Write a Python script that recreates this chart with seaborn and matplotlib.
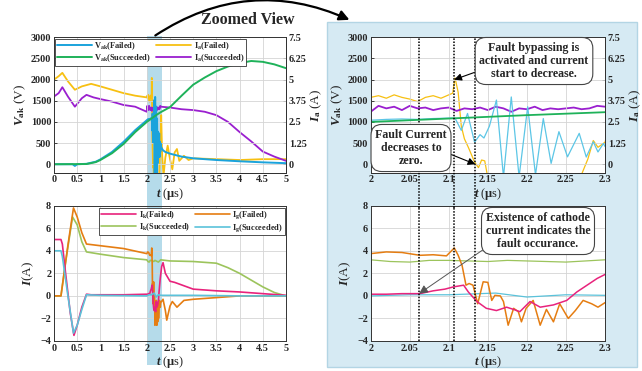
import numpy as np
import pandas as pd
import matplotlib
matplotlib.use("Agg")
import matplotlib.pyplot as plt
import seaborn as sns
from matplotlib.patches import Rectangle, FancyArrowPatch
from matplotlib.ticker import FormatStrFormatter

# ---------------- data (t in microseconds) ----------------
t_vak_f = [0, 0.4, 0.45, 0.5, 0.7, 0.9, 1.0, 1.25, 1.5, 1.75, 2.0, 2.02, 2.04, 2.06, 2.08, 2.1,
           2.108, 2.116, 2.124, 2.133, 2.14, 2.145, 2.152, 2.161, 2.17, 2.18, 2.19, 2.201, 2.211,
           2.221, 2.231, 2.241, 2.252, 2.267, 2.276, 2.285, 2.291, 2.298, 2.3, 2.35, 2.4, 2.5,
           2.75, 3.0, 3.5, 4.0, 4.5, 5.0]
vak_failed = [0, 0, -40, 0, 10, 60, 115, 290, 530, 805, 1040, 1060, 1070, 1060, 1080, 1090,
              1090, 800, 1200, 520, 700, 620, 900, 1517, -300, 1590, -300, 1360, -250,
              1080, 20, 770, 175, 730, 170, 530, 290, 490, 420, 330, 290, 250,
              180, 140, 100, 70, 45, 25]

t_vak_s = [0, 0.7, 0.9, 1.0, 1.25, 1.5, 1.75, 2.0, 2.1, 2.2, 2.3, 2.5, 2.75, 3.0, 3.25, 3.5,
           3.75, 4.0, 4.25, 4.5, 4.75, 5.0]
vak_succeeded = [0, 5, 50, 100, 260, 480, 760, 1000, 1080, 1160, 1230, 1350, 1620, 1880, 2050,
                 2200, 2310, 2390, 2440, 2420, 2360, 2270]

t_ia_f = [0, 0.1, 0.18, 0.3, 0.45, 0.6, 0.8, 1.0, 1.25, 1.5, 1.75, 2.0,
          2.01, 2.02, 2.03, 2.04, 2.05, 2.06, 2.07, 2.08, 2.09, 2.1,
          2.105, 2.108, 2.112, 2.116, 2.12, 2.125, 2.133, 2.138, 2.142, 2.146, 2.15, 2.16,
          2.2, 2.25, 2.27, 2.278, 2.285, 2.291, 2.3, 2.31, 2.33, 2.36, 2.4, 2.45, 2.5, 2.55,
          2.6, 2.65, 2.7, 2.8, 2.9, 3.0, 3.5, 4.0, 4.5, 5.0]
ia_failed = [5.0, 5.2, 5.4, 4.9, 4.4, 4.6, 4.75, 4.6, 4.4, 4.2, 4.05, 3.95,
             4.05, 3.9, 4.1, 3.95, 3.85, 3.7, 3.95, 4.05, 3.9, 4.1,
             4.2, 5.1, 4.25, 2.25, 1.5, 1.0, 0.13, -0.2, 0.25, 0.2, -0.8, -1.2,
             -1.5, -1.2, -0.6, 0.3, 1.4, 1.0, 1.3, 2.9, 0.6, -0.7, 0.4, 1.1, 0.3, -0.3,
             0.7, 0.9, 0.2, 0.5, 0.25, 0.35, 0.3, 0.25, 0.3, 0.3]

t_ia_s = [0, 0.1, 0.18, 0.3, 0.45, 0.6, 0.7, 0.85, 1.0, 1.25, 1.5, 1.75,
          2.0, 2.01, 2.02, 2.03, 2.04, 2.05, 2.06, 2.07, 2.08, 2.09, 2.1, 2.11, 2.12, 2.13,
          2.14, 2.15, 2.16, 2.17, 2.18, 2.19, 2.2, 2.21, 2.22, 2.23, 2.24, 2.25, 2.26, 2.27,
          2.28, 2.29, 2.3, 2.5, 2.75, 3.0, 3.25, 3.5, 3.75, 4.0, 4.25, 4.5, 4.75, 5.0]
ia_succeeded = [4.0, 4.2, 4.55, 4.0, 3.4, 3.9, 4.1, 3.95, 3.85, 3.7, 3.5, 3.4,
                3.1, 3.45, 3.3, 3.4, 3.2, 3.45, 3.3, 3.35, 3.2, 3.3, 3.35, 3.15, 3.3, 3.25,
                3.35, 3.2, 3.4, 3.3, 3.1, 3.3, 3.25, 3.4, 3.2, 3.3, 3.25, 3.3, 3.35, 3.25,
                3.3, 3.45, 3.4, 3.35, 3.25, 3.2, 3.1, 2.9, 2.5, 1.9, 1.35, 0.75, 0.45, 0.2]

t_ik_f = [0, 0.15, 0.18, 0.25, 0.35, 0.43, 0.5, 0.6, 0.7, 0.8, 1.0, 1.5, 2.0,
          2.02, 2.04, 2.063, 2.08, 2.095, 2.106, 2.119, 2.125, 2.136, 2.148, 2.161, 2.174,
          2.183, 2.191, 2.204, 2.217, 2.234, 2.251, 2.264, 2.277, 2.29, 2.3,
          2.32, 2.35, 2.4, 2.5, 2.6, 2.8, 3.0, 3.5, 4.0, 4.5, 5.0]
ik_failed = [5.0, 5.0, 4.6, 2.0, -1.5, -3.5, -2.6, -1.0, 0.15, 0.1, 0.1, 0.1, 0.15,
             0.15, 0.2, 0.2, 0.45, 0.6, 0.8, 0.95, 0.35, -0.5, -1.1, -1.3, -1.0,
             -1.2, -1.4, -0.5, -1.0, -0.8, -0.4, 0.35, 0.95, 1.55, 1.9,
             2.6, 2.95, 2.0, 1.3, 1.2, 0.9, 0.6, 0.45, 0.35, 0.2, 0.05]

t_ig_f = [0, 0.15, 0.2, 0.3, 0.42, 0.5, 0.6, 0.7, 1.0, 1.5, 2.0,
          2.02, 2.04, 2.063, 2.08, 2.097, 2.107, 2.112, 2.117, 2.122, 2.126, 2.131, 2.137,
          2.144, 2.15, 2.155, 2.159, 2.166, 2.17, 2.176, 2.183, 2.189, 2.193, 2.199, 2.208,
          2.217, 2.225, 2.234, 2.242, 2.253, 2.262, 2.272, 2.283, 2.291, 2.3,
          2.35, 2.4, 2.43, 2.5, 2.55, 2.65, 2.8, 3.0, 3.5, 4.0, 4.5, 5.0]
ig_failed = [0, 0, 1.5, 4.5, 7.8, 7.0, 5.6, 4.6, 4.45, 4.2, 3.75,
             3.9, 3.85, 3.6, 3.65, 3.55, 4.25, 3.6, 2.7, 0.95, 1.1, 0.95, -0.7,
             1.25, 1.2, -0.4, 0.05, 0.0, -0.5, -2.6, -1.1, -1.4, -2.3, -1.1, -0.4,
             -2.6, -1.2, -2.3, -0.7, -2.0, -1.3, -0.4, -0.7, -1.0, -0.6,
             -0.3, -1.3, -2.15, -0.9, -0.5, -1.0, -0.4, -0.3, -0.15, 0.0, 0.0, 0.0]

t_ik_s = [0, 0.15, 0.25, 0.4, 0.5, 0.6, 0.7, 1.0, 1.5, 2.0, 2.025, 2.05, 2.075, 2.1, 2.125,
          2.15, 2.175, 2.2, 2.225, 2.25, 2.275, 2.3, 2.5, 3.0, 3.5, 3.75, 4.0, 4.25, 4.5,
          4.75, 5.0]
ik_succeeded = [0, 0, 3.0, 7.0, 6.3, 4.8, 3.9, 3.7, 3.4, 3.2, 3.05, 3.0, 3.15, 3.15, 3.1,
                3.05, 3.15, 3.1, 3.05, 3.0, 3.1, 3.2, 3.1, 3.05, 2.9, 2.5, 2.0, 1.4, 0.8,
                0.3, 0.0]

t_ig_s = [0, 0.15, 0.18, 0.3, 0.42, 0.5, 0.6, 0.7, 1.0, 2.0, 2.05, 2.1, 2.16, 2.2, 2.25,
          2.3, 3.0, 4.0, 5.0]
ig_succeeded = [4.0, 4.0, 3.5, 0.0, -3.3, -2.6, -1.2, 0.1, 0.05, 0.0, 0.1, 0.1, 0.25, -0.1,
                0.1, 0.05, 0.05, 0.0, 0.0]

fault_marks = [2.062, 2.107, 2.134]

# ---------------- style ----------------
sns.set_style("white")
plt.rcParams.update({
    "font.family": ["Liberation Serif", "DejaVu Serif"],
    "font.weight": "bold",
    "mathtext.fontset": "custom",
    "mathtext.rm": "Liberation Serif:bold",
    "mathtext.it": "Liberation Serif:italic:bold",
    "mathtext.bf": "Liberation Serif:bold",
    "axes.linewidth": 0.7,
})

C_VF, C_VF2 = "#1aa3dc", "#5cc6e6"
C_VS = "#1fb25a"
C_IAF = "#f7c012"
C_IAS = "#9a1fcf"
C_IKF = "#e8237c"
C_IGF = "#e57d12"
C_IKS = "#9cc45c"
C_IGS = "#5bc2da"

W, H = 642, 371
fig = plt.figure(figsize=(W / 100, H / 100), dpi=100)
fig.patch.set_facecolor("white")


def rect(x0, y0, x1, y1):
    return [x0 / W, 1 - y1 / H, (x1 - x0) / W, (y1 - y0) / H]


# background decorations
fig.patches.append(Rectangle((326.7 / W, 1 - 366.5 / H), (637 - 326.7) / W, (366.5 - 21.7) / H,
                             transform=fig.transFigure, facecolor="#d6eaf3",
                             edgecolor="#b3d5e4", lw=1.0, zorder=-2))
fig.patches.append(Rectangle((146.8 / W, 1 - 365 / H), (161.5 - 146.8) / W, (365 - 36) / H,
                             transform=fig.transFigure, facecolor="#b5dbea",
                             edgecolor="none", zorder=-1))

ax_tl = fig.add_axes(rect(54, 37.3, 286, 172.7))
ax_bl = fig.add_axes(rect(54, 205.7, 286, 341))
ax_tr = fig.add_axes(rect(370.7, 37.3, 605, 172.7))
ax_br = fig.add_axes(rect(370.7, 205.7, 605, 341))
ax_tl.set_facecolor("none")
ax_bl.set_facecolor("none")
ax_tr.set_facecolor("white")
ax_br.set_facecolor("white")

tick_kw = dict(direction="in", length=2, width=0.6, labelsize=7.3, pad=2)
LW = 1.2


def line(ax, t, v, color, lw=LW, label=None):
    sns.lineplot(x=t, y=v, ax=ax, color=color, lw=lw, estimator=None, sort=False,
                 label=label, legend=False)
    return ax.lines[-1]


def setup_top(ax, xlim, xticks):
    ax.set_xlim(*xlim)
    ax.set_ylim(-200, 3000)
    ax.set_xticks(xticks)
    ax.set_yticks([0, 500, 1000, 1500, 2000, 2500, 3000])
    ax.xaxis.set_major_formatter(FormatStrFormatter("%g"))
    ax.grid(True, color="#d4d4d4", lw=0.6)
    ax.tick_params(**tick_kw)
    ax.set_ylabel(r"$V_{\rm ak}$ (V)", fontsize=9.5, labelpad=2)
    ax.set_xlabel(r"$t$ ($\mathrm{\mu}$s)", fontsize=9, labelpad=1)
    for s in ax.spines.values():
        s.set_color("#333333")
    ax2 = ax.twinx()
    ax2.set_ylim(-0.5, 7.5)
    ax2.set_yticks([0, 1.25, 2.5, 3.75, 5, 6.25, 7.5])
    ax2.yaxis.set_major_formatter(FormatStrFormatter("%g"))
    ax2.tick_params(**tick_kw)
    ax2.set_ylabel(r"$I_{\rm a}$ (A)", fontsize=9.5, labelpad=1)
    return ax2


def setup_bot(ax, xlim, xticks):
    ax.set_xlim(*xlim)
    ax.set_ylim(-4, 8)
    ax.set_xticks(xticks)
    ax.set_yticks([-4, -2, 0, 2, 4, 6, 8])
    ax.xaxis.set_major_formatter(FormatStrFormatter("%g"))
    ax.grid(True, color="#d4d4d4", lw=0.6)
    ax.tick_params(**tick_kw)
    ax.set_ylabel(r"$I$(A)", fontsize=9.5, labelpad=3)
    ax.set_xlabel(r"$t$ ($\mathrm{\mu}$s)", fontsize=9, labelpad=1)
    for s in ax.spines.values():
        s.set_color("#333333")


xt_full = [0, 0.5, 1, 1.5, 2, 2.5, 3, 3.5, 4, 4.5, 5]
xt_zoom = [2, 2.05, 2.1, 2.15, 2.2, 2.25, 2.3]

# ---- top-left
ax_tl2 = setup_top(ax_tl, (0, 5), xt_full)
h1 = line(ax_tl, t_vak_f, vak_failed, C_VF, lw=1.4)
h2 = line(ax_tl, t_vak_s, vak_succeeded, C_VS, lw=1.4)
h3 = line(ax_tl2, t_ia_f, ia_failed, C_IAF, lw=1.3)
h4 = line(ax_tl2, t_ia_s, ia_succeeded, C_IAS, lw=1.3)
ax_tl.set_zorder(1)
ax_tl.patch.set_visible(False)
ax_tl2.set_zorder(0.5)
leg = ax_tl.legend([h1, h2, h3, h4],
                   [r"V$_{\rm ak}$(Failed)", r"V$_{\rm ak}$(Succeeded)",
                    r"I$_{\rm a}$(Failed)", r"I$_{\rm a}$(Succeeded)"],
                   ncol=2, loc="upper left", bbox_to_anchor=(0.005, 0.99),
                   fontsize=6, frameon=True, fancybox=False, edgecolor="#333333",
                   framealpha=1, handlelength=4.2, columnspacing=0.6, borderpad=0.2,
                   labelspacing=0.05, handletextpad=0.3, borderaxespad=0)
leg.get_frame().set_linewidth(0.6)

# ---- bottom-left
setup_bot(ax_bl, (0, 5), xt_full)
g3 = line(ax_bl, t_ik_s, ik_succeeded, C_IKS)
g2 = line(ax_bl, t_ig_f, ig_failed, C_IGF)
g1 = line(ax_bl, t_ik_f, ik_failed, C_IKF)
g4 = line(ax_bl, t_ig_s, ig_succeeded, C_IGS)
leg2 = ax_bl.legend([g1, g3, g2, g4],
                    [r"I$_{\rm k}$(Failed)", r"I$_{\rm k}$(Succeeded)",
                     r"I$_{\rm g}$(Failed)", r"I$_{\rm g}$(Succeeded)"],
                    ncol=2, loc="upper right", bbox_to_anchor=(0.995, 0.985),
                    fontsize=6, frameon=True, fancybox=False, edgecolor="#333333",
                    framealpha=1, handlelength=4.2, columnspacing=0.6, borderpad=0.2,
                    labelspacing=0.05, handletextpad=0.3, borderaxespad=0)
leg2.get_frame().set_linewidth(0.6)

# ---- top-right (zoom)
ax_tr2 = setup_top(ax_tr, (2, 2.3), xt_zoom)
line(ax_tr2, t_ia_f, ia_failed, C_IAF, lw=0.9)
line(ax_tr2, t_ia_s, ia_succeeded, C_IAS, lw=1.3)
line(ax_tr, t_vak_f, vak_failed, C_VF2, lw=0.9)
line(ax_tr, t_vak_s, vak_succeeded, C_VS, lw=1.3)
ax_tr.set_zorder(1)
ax_tr.patch.set_visible(False)
ax_tr2.set_zorder(0.5)
ax_tr2.patch.set_visible(True)
ax_tr2.patch.set_facecolor("white")

# ---- bottom-right (zoom)
setup_bot(ax_br, (2, 2.3), xt_zoom)
line(ax_br, t_ik_s, ik_succeeded, C_IKS, lw=0.9)
line(ax_br, t_ig_s, ig_succeeded, C_IGS, lw=0.9)
line(ax_br, t_ig_f, ig_failed, C_IGF, lw=1.1)
line(ax_br, t_ik_f, ik_failed, C_IKF, lw=1.1)

# dotted event lines
for xm in fault_marks:
    ax_tr.axvline(xm, ymin=-0.26, ymax=1, color="black", ls=(0, (1, 1)), lw=1.1,
                  clip_on=False, zorder=5)
    ax_br.axvline(xm, ymin=0, ymax=1, color="black", ls=(0, (1, 1)), lw=1.1,
                  clip_on=False, zorder=5)

# annotations
box = dict(boxstyle="round,pad=0.35,rounding_size=0.9", fc="white", ec="#444444", lw=0.8)
ax_tr.annotate("Fault bypassing is\nactivated and current\nstart to decrease.",
               xy=(2.107, 2000), xycoords="data",
               xytext=(534, H - 61), textcoords="figure pixels",
               ha="center", va="center", fontsize=8.6, fontweight="bold",
               linespacing=1.15, bbox=box, zorder=10,
               arrowprops=dict(arrowstyle="-|>,head_length=0.5,head_width=0.25", color="black",
                               lw=0.8, shrinkA=0, shrinkB=0, relpos=(0.0, 0.25)))
ax_tr.annotate("Fault Current\ndecreases to\nzero.",
               xy=(2.134, 0), xycoords="data",
               xytext=(411, H - 148), textcoords="figure pixels",
               ha="center", va="center", fontsize=8.6, fontweight="bold",
               linespacing=1.15, bbox=box, zorder=10,
               arrowprops=dict(arrowstyle="-|>,head_length=0.5,head_width=0.25", color="black",
                               lw=0.8, shrinkA=0, shrinkB=0, relpos=(0.97, 0.4)))
ax_br.annotate("Existence of cathode\ncurrent indicates the\nfault occurance.",
               xy=(2.062, 0.2), xycoords="data",
               xytext=(538, H - 231), textcoords="figure pixels",
               ha="center", va="center", fontsize=8.6, fontweight="bold",
               linespacing=1.15, bbox=box, zorder=10,
               arrowprops=dict(arrowstyle="-|>,head_length=0.6,head_width=0.3", color="#555555",
                               lw=0.7, shrinkA=0, shrinkB=0, relpos=(0.02, 0.1)))

# "Zoomed View" and curved arrow
fig.text(248 / W, 1 - 20 / H, "Zoomed View", ha="center", va="center", fontsize=11.5,
         fontweight="bold")
arr = FancyArrowPatch((153 / W, 1 - 37 / H), (352 / W, 1 - 21 / H),
                      transform=fig.transFigure, connectionstyle="arc3,rad=-0.28",
                      arrowstyle="-|>,head_length=6,head_width=3", lw=1.6, color="black",
                      zorder=6)
fig.patches.append(arr)

fig.savefig("out.png", dpi=100)
